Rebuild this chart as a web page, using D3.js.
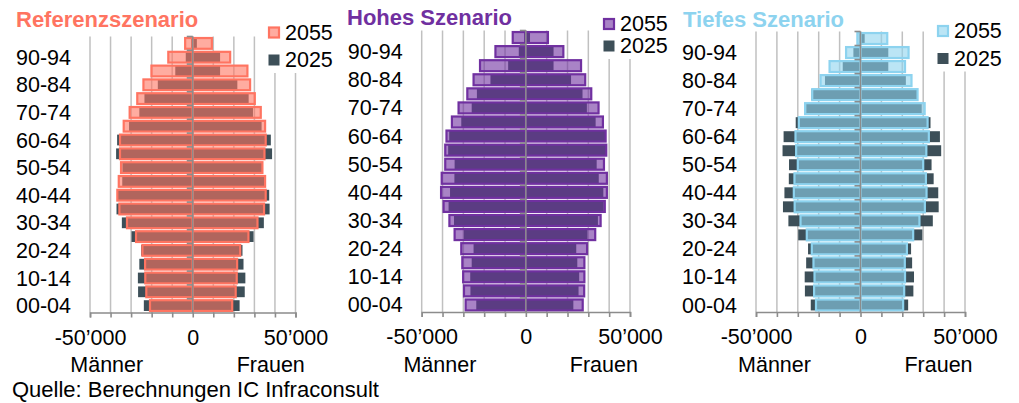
<!DOCTYPE html>
<html>
<head>
<meta charset="utf-8">
<script src="https://cdn.jsdelivr.net/npm/d3@7"></script>
<style>
  body { margin: 0; background: #fff; }
  svg { display: block; font-family: 'Liberation Sans', Arial, sans-serif; }
  .grid-line { stroke: #c0c0c0; stroke-width: 1.5; }
  .zero-line, .y-tick { stroke: #8c8c8c; stroke-width: 1.6; }
  .axis.x .domain, .axis.x .tick line { stroke: #8c8c8c; stroke-width: 1.6; }
  .axis text, .sex-label, .legend text { font-size: 21.5px; fill: #000; }
  .title { font-size: 22px; font-weight: bold; }
  .source { font-size: 22px; fill: #000; }
</style>
</head>
<body>
<svg id="chart" width="1019" height="403"></svg>
<script>
// age groups, bottom to top
const ageGroups = ['00-04', '05-09', '10-14', '15-19', '20-24', '25-29', '30-34', '35-39', '40-44', '45-49',
  '50-54', '55-59', '60-64', '65-69', '70-74', '75-79', '80-84', '85-89', '90-94', '95+']
const ageTickLabels = ['00-04', '10-14', '20-24', '30-34', '40-44', '50-54', '60-64', '70-74', '80-84', '90-94']
const xGridValues = [-50000, -40000, -30000, -20000, -10000, 0, 10000, 20000, 30000, 40000, 50000]
const xLabelValues = [-50000, 0, 50000]
const years = ['2055', '2025']
const sexLabels = ['Männer', 'Frauen']
const scenarioTitles = ['Referenzszenario', 'Hohes Szenario', 'Tiefes Szenario']
const sourceText = 'Quelle: Berechnungen IC Infraconsult'

// 2025, same in every scenario
const men2025 = [23800, 26600, 26700, 26000, 25100, 29800, 34500, 37100, 36400, 34300,
  34200, 37300, 36800, 31000, 26000, 23500, 17000, 8500, 3400, 800]
const women2025 = [22800, 25300, 25600, 24700, 24200, 29600, 34600, 37400, 37200, 35000,
  34000, 38600, 38000, 33500, 29300, 27200, 21700, 13300, 13300, 2000]

// 2055 by scenario
const refMen2055 = [20800, 22600, 23100, 23200, 24500, 27600, 32000, 35700, 36700, 36000,
  34900, 35400, 35400, 33600, 30700, 27000, 24000, 20100, 11900, 3700]
const refWomen2055 = [19200, 20900, 21400, 21600, 23100, 27100, 31500, 34700, 35500, 35200,
  33900, 34900, 35500, 35200, 33100, 30200, 27900, 26600, 18200, 9300]
const highMen2055 = [28900, 29700, 30100, 30500, 31000, 34200, 36700, 39500, 40700, 40400,
  38700, 38700, 38100, 35500, 32300, 28100, 25100, 22000, 14600, 6300]
const highWomen2055 = [27300, 28000, 28100, 28100, 29400, 33300, 35900, 37900, 38900, 38900,
  37500, 38600, 38300, 37000, 34900, 31400, 28500, 26500, 18000, 10600]
const lowMen2055 = [21300, 22200, 22000, 22500, 23300, 25700, 28700, 31500, 31900, 31600,
  30000, 30800, 31100, 29500, 26500, 23100, 19100, 14800, 6900, 1500]
const lowWomen2055 = [20400, 20900, 21300, 21200, 22200, 25200, 28200, 30800, 31600, 31300,
  30000, 31500, 32700, 32100, 30700, 27300, 24400, 21300, 23000, 12800]

const darkColor = '#3d4f58'
const formatNumber = d3.formatLocale({
  decimal: '.', thousands: '\u2019', grouping: [3], currency: ['', ''], minus: '-'
}).format(',')

function pyramid () {
  let xScale
  let yScale
  const barPadding = 0.22
  const tickSize = 5

  function exports (_selection) {
    _selection.each(function (_data) {
      const container = d3.select(this)

      buildScales(_data)
      drawGridLines(container, _data)
      drawLegendBackground(container, _data)
      drawBars(container, _data)
      drawAxes(container, _data)
      drawLegend(container, _data)
      drawTitle(container, _data)
    })
  }

  function buildScales (d) {
    xScale = d3.scaleLinear()
      .domain([-50000, 50000])
      .range([d.left, d.right])

    yScale = d3.scaleBand()
      .domain(ageGroups.slice().reverse())
      .range([d.top, d.bottom])
      .paddingInner(barPadding)
      .paddingOuter(barPadding / 2)
  }

  function drawGridLines (container, d) {
    container.append('g')
      .classed('grid-lines-group', true)
      .selectAll('line')
      .data(xGridValues)
      .enter()
      .append('line')
      .attr('class', 'grid-line')
      .attr('x1', (v) => xScale(v))
      .attr('x2', (v) => xScale(v))
      .attr('y1', d.top)
      .attr('y2', d.bottom)
  }

  function drawLegendBackground (container, d) {
    container.append('rect')
      .attr('x', d.legendX - 8)
      .attr('y', 0)
      .attr('width', d.right - d.legendX + 20)
      .attr('height', d.legendY + d.legendStep + 13)
      .style('fill', '#fff')
  }

  function drawBars (container, d) {
    const series = [
      { key: '2025', men: men2025, women: women2025, fill: darkColor, opacity: 1, stroke: 'none' },
      { key: '2055', men: d.men2055, women: d.women2055, fill: d.color, opacity: 0.6, stroke: d.color }
    ]

    const groups = container.append('g')
      .classed('chart-group', true)
      .selectAll('.serie')
      .data(series)
      .enter()
      .append('g')
      .attr('class', 'serie')

    groups.selectAll('rect')
      .data((s) => ageGroups.flatMap((age, i) => [
        { age, value: -s.men[i], s },
        { age, value: s.women[i], s }
      ]))
      .enter()
      .append('rect')
      .attr('x', (b) => xScale(Math.min(0, b.value)))
      .attr('y', (b) => yScale(b.age))
      .attr('width', (b) => Math.abs(xScale(b.value) - xScale(0)))
      .attr('height', yScale.bandwidth())
      .style('fill', (b) => b.s.fill)
      .style('fill-opacity', (b) => b.s.opacity)
      .style('stroke', (b) => b.s.stroke)
      .style('stroke-width', 2.2)
  }

  function drawAxes (container, d) {
    const x0 = xScale(0)
    const gap = (yScale.step() - yScale.bandwidth()) / 2

    container.append('g')
      .classed('y-ticks', true)
      .selectAll('line')
      .data(ageGroups)
      .enter()
      .append('line')
      .attr('class', 'y-tick')
      .attr('x1', x0 - 6)
      .attr('x2', x0)
      .attr('y1', (age) => yScale(age) - gap)
      .attr('y2', (age) => yScale(age) - gap)

    container.append('line')
      .attr('class', 'zero-line')
      .attr('x1', x0)
      .attr('x2', x0)
      .attr('y1', d.top)
      .attr('y2', d.bottom)

    const xAxis = d3.axisBottom(xScale)
      .tickValues(xGridValues)
      .tickSize(tickSize)
      .tickPadding(12)
      .tickFormat((v) => xLabelValues.includes(v) ? formatNumber(v) : '')

    container.append('g')
      .attr('class', 'axis x')
      .attr('transform', `translate(0,${d.bottom})`)
      .call(xAxis)
      .call((g) => g.selectAll('text').attr('font-family', null).attr('font-size', null))

    const yAxis = d3.axisLeft(yScale)
      .tickValues(ageTickLabels)
      .tickSize(0)
      .tickPadding(19)

    container.append('g')
      .attr('class', 'axis y')
      .attr('transform', `translate(${d.left},0)`)
      .call(yAxis)
      .call((g) => g.select('.domain').remove())
      .call((g) => g.selectAll('text').attr('font-family', null).attr('font-size', null).attr('dy', '0.35em'))

    container.selectAll('.sex-label')
      .data(sexLabels)
      .enter()
      .append('text')
      .attr('class', 'sex-label')
      .attr('x', (s, i) => x0 + (i === 0 ? -86 : 78))
      .attr('y', 372)
      .attr('text-anchor', 'middle')
      .text((s) => s)
  }

  function drawLegend (container, d) {
    const legend = container.append('g')
      .attr('class', 'legend')
      .selectAll('.item')
      .data(years)
      .enter()
      .append('g')
      .attr('class', 'item')
      .attr('transform', (y, i) => `translate(${d.legendX},${d.legendY + i * d.legendStep})`)

    legend.append('rect')
      .attr('x', (y, i) => i === 0 ? 1 : 0.5)
      .attr('y', (y, i) => i === 0 ? -5 : -5.5)
      .attr('width', (y, i) => i === 0 ? 10 : 11)
      .attr('height', (y, i) => i === 0 ? 10 : 11)
      .style('fill', (y, i) => i === 0 ? d.color : darkColor)
      .style('fill-opacity', (y, i) => i === 0 ? 0.6 : 1)
      .style('stroke', (y, i) => i === 0 ? d.color : 'none')
      .style('stroke-width', 2.2)

    legend.append('text')
      .attr('x', 17)
      .attr('y', 7)
      .text((y) => y)
  }

  function drawTitle (container, d) {
    container.append('text')
      .attr('class', 'title')
      .attr('x', d.titleX)
      .attr('y', d.titleY)
      .style('fill', d.color)
      .text(d.title)
  }

  return exports
}

const panels = [
  {
    title: scenarioTitles[0], color: '#ff7461', men2055: refMen2055, women2055: refWomen2055,
    left: 90, right: 295.5, top: 36.5, bottom: 312.5,
    titleX: 16, titleY: 27, legendX: 268, legendY: 32.5, legendStep: 27.5
  },
  {
    title: scenarioTitles[1], color: '#7030a0', men2055: highMen2055, women2055: highWomen2055,
    left: 421.7, right: 630, top: 30.5, bottom: 312,
    titleX: 347, titleY: 25, legendX: 603, legendY: 24, legendStep: 22
  },
  {
    title: scenarioTitles[2], color: '#8dd3ef', men2055: lowMen2055, women2055: lowWomen2055,
    left: 756, right: 965, top: 31.5, bottom: 312,
    titleX: 683, titleY: 27, legendX: 937, legendY: 31, legendStep: 27.5
  }
]

const svg = d3.select('#chart')

svg.selectAll('.panel')
  .data(panels)
  .enter()
  .append('g')
  .attr('class', 'panel')
  .call(pyramid())

svg.append('text')
  .attr('class', 'source')
  .attr('x', 12)
  .attr('y', 397)
  .text(sourceText)
</script>
</body>
</html>
